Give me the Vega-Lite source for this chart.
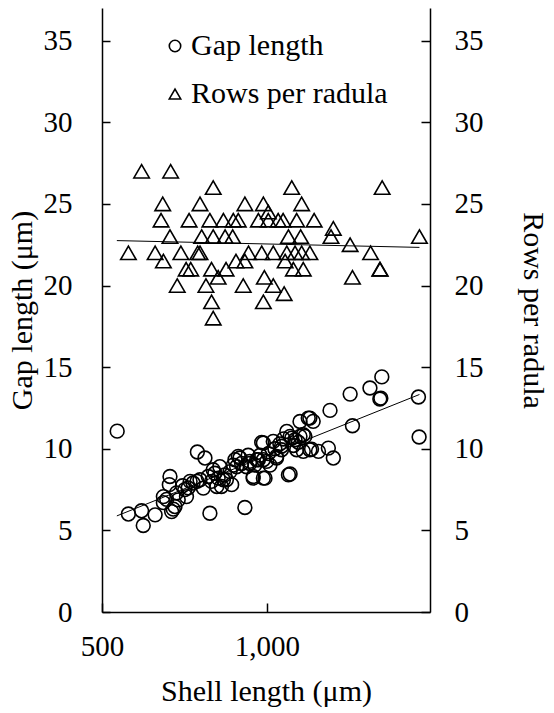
{
  "$schema": "https://vega.github.io/schema/vega-lite/v6.json",
  "width": 328,
  "height": 604,
  "autosize": "none",
  "padding": {"left": 102, "top": 8, "right": 124, "bottom": 101},
  "background": "white",
  "config": {
    "view": {"stroke": null},
    "font": "Liberation Serif, Times New Roman, serif",
    "axis": {
      "labelFont": "Liberation Serif, Times New Roman, serif",
      "titleFont": "Liberation Serif, Times New Roman, serif",
      "labelFontSize": 29,
      "titleFontSize": 30,
      "titleFontWeight": "normal",
      "labelColor": "black",
      "titleColor": "black",
      "domainColor": "black",
      "tickColor": "black",
      "domainWidth": 1.5,
      "tickWidth": 1.5,
      "grid": false
    },
    "legend": {
      "labelFont": "Liberation Serif, Times New Roman, serif",
      "labelFontSize": 30,
      "labelColor": "black",
      "labelLimit": 400
    }
  },
  "datasets": {
    "pts": [
      {"s": "Gap length", "x": 546, "y": 11.08},
      {"s": "Gap length", "x": 580, "y": 6.0},
      {"s": "Gap length", "x": 620, "y": 6.2},
      {"s": "Gap length", "x": 625, "y": 5.3},
      {"s": "Gap length", "x": 661, "y": 5.95},
      {"s": "Gap length", "x": 686, "y": 7.07},
      {"s": "Gap length", "x": 686, "y": 6.7},
      {"s": "Gap length", "x": 696, "y": 6.9},
      {"s": "Gap length", "x": 704, "y": 7.8},
      {"s": "Gap length", "x": 706, "y": 8.3},
      {"s": "Gap length", "x": 711, "y": 6.15},
      {"s": "Gap length", "x": 716, "y": 6.3},
      {"s": "Gap length", "x": 721, "y": 6.46},
      {"s": "Gap length", "x": 726, "y": 7.3},
      {"s": "Gap length", "x": 731, "y": 6.87},
      {"s": "Gap length", "x": 744, "y": 7.73},
      {"s": "Gap length", "x": 751, "y": 7.5},
      {"s": "Gap length", "x": 756, "y": 7.07},
      {"s": "Gap length", "x": 761, "y": 7.6},
      {"s": "Gap length", "x": 767, "y": 8.0},
      {"s": "Gap length", "x": 776, "y": 7.9},
      {"s": "Gap length", "x": 788, "y": 8.0},
      {"s": "Gap length", "x": 789, "y": 9.8},
      {"s": "Gap length", "x": 797, "y": 8.1},
      {"s": "Gap length", "x": 807, "y": 7.59},
      {"s": "Gap length", "x": 812, "y": 9.43},
      {"s": "Gap length", "x": 822, "y": 8.3},
      {"s": "Gap length", "x": 827, "y": 6.05},
      {"s": "Gap length", "x": 832, "y": 8.0},
      {"s": "Gap length", "x": 837, "y": 8.71},
      {"s": "Gap length", "x": 842, "y": 8.5},
      {"s": "Gap length", "x": 848, "y": 7.69},
      {"s": "Gap length", "x": 852, "y": 8.2},
      {"s": "Gap length", "x": 857, "y": 8.9},
      {"s": "Gap length", "x": 862, "y": 7.69},
      {"s": "Gap length", "x": 868, "y": 8.1},
      {"s": "Gap length", "x": 872, "y": 8.4},
      {"s": "Gap length", "x": 877, "y": 8.1},
      {"s": "Gap length", "x": 888, "y": 8.6},
      {"s": "Gap length", "x": 893, "y": 7.8},
      {"s": "Gap length", "x": 898, "y": 9.0},
      {"s": "Gap length", "x": 903, "y": 9.33},
      {"s": "Gap length", "x": 908, "y": 8.9},
      {"s": "Gap length", "x": 913, "y": 9.53},
      {"s": "Gap length", "x": 918, "y": 9.43},
      {"s": "Gap length", "x": 923, "y": 9.1},
      {"s": "Gap length", "x": 933, "y": 6.4},
      {"s": "Gap length", "x": 938, "y": 8.9},
      {"s": "Gap length", "x": 943, "y": 9.6},
      {"s": "Gap length", "x": 948, "y": 9.1},
      {"s": "Gap length", "x": 948, "y": 9.23},
      {"s": "Gap length", "x": 958, "y": 8.2},
      {"s": "Gap length", "x": 958, "y": 8.3},
      {"s": "Gap length", "x": 963, "y": 9.0},
      {"s": "Gap length", "x": 969, "y": 9.33},
      {"s": "Gap length", "x": 974, "y": 9.33},
      {"s": "Gap length", "x": 979, "y": 9.6},
      {"s": "Gap length", "x": 984, "y": 10.39},
      {"s": "Gap length", "x": 989, "y": 9.33},
      {"s": "Gap length", "x": 989, "y": 10.35},
      {"s": "Gap length", "x": 989, "y": 8.2},
      {"s": "Gap length", "x": 994, "y": 8.2},
      {"s": "Gap length", "x": 999, "y": 9.23},
      {"s": "Gap length", "x": 1004, "y": 9.7},
      {"s": "Gap length", "x": 1009, "y": 9.0},
      {"s": "Gap length", "x": 1019, "y": 10.45},
      {"s": "Gap length", "x": 1024, "y": 10.0},
      {"s": "Gap length", "x": 1029, "y": 9.53},
      {"s": "Gap length", "x": 1029, "y": 9.43},
      {"s": "Gap length", "x": 1039, "y": 10.3},
      {"s": "Gap length", "x": 1044, "y": 10.15},
      {"s": "Gap length", "x": 1044, "y": 9.94},
      {"s": "Gap length", "x": 1050, "y": 10.6},
      {"s": "Gap length", "x": 1060, "y": 11.06},
      {"s": "Gap length", "x": 1065, "y": 8.4},
      {"s": "Gap length", "x": 1070, "y": 10.76},
      {"s": "Gap length", "x": 1070, "y": 8.45},
      {"s": "Gap length", "x": 1075, "y": 10.65},
      {"s": "Gap length", "x": 1080, "y": 10.2},
      {"s": "Gap length", "x": 1085, "y": 10.55},
      {"s": "Gap length", "x": 1090, "y": 9.94},
      {"s": "Gap length", "x": 1095, "y": 10.4},
      {"s": "Gap length", "x": 1100, "y": 11.67},
      {"s": "Gap length", "x": 1100, "y": 10.76},
      {"s": "Gap length", "x": 1110, "y": 10.86},
      {"s": "Gap length", "x": 1110, "y": 9.84},
      {"s": "Gap length", "x": 1115, "y": 10.76},
      {"s": "Gap length", "x": 1125, "y": 11.88},
      {"s": "Gap length", "x": 1130, "y": 11.88},
      {"s": "Gap length", "x": 1130, "y": 9.94},
      {"s": "Gap length", "x": 1135, "y": 9.98},
      {"s": "Gap length", "x": 1140, "y": 11.68},
      {"s": "Gap length", "x": 1156, "y": 9.84},
      {"s": "Gap length", "x": 1186, "y": 10.04},
      {"s": "Gap length", "x": 1191, "y": 12.35},
      {"s": "Gap length", "x": 1201, "y": 9.43},
      {"s": "Gap length", "x": 1252, "y": 13.35},
      {"s": "Gap length", "x": 1259, "y": 11.41},
      {"s": "Gap length", "x": 1312, "y": 13.72},
      {"s": "Gap length", "x": 1342, "y": 13.05},
      {"s": "Gap length", "x": 1345, "y": 13.1},
      {"s": "Gap length", "x": 1348, "y": 14.4},
      {"s": "Gap length", "x": 1459, "y": 13.17},
      {"s": "Gap length", "x": 1461, "y": 10.72},
      {"s": "Rows per radula", "x": 620, "y": 27},
      {"s": "Rows per radula", "x": 708, "y": 27},
      {"s": "Rows per radula", "x": 837, "y": 26},
      {"s": "Rows per radula", "x": 1075, "y": 26},
      {"s": "Rows per radula", "x": 1349, "y": 26},
      {"s": "Rows per radula", "x": 684, "y": 25},
      {"s": "Rows per radula", "x": 797, "y": 25},
      {"s": "Rows per radula", "x": 933, "y": 25},
      {"s": "Rows per radula", "x": 989, "y": 25},
      {"s": "Rows per radula", "x": 1105, "y": 25},
      {"s": "Rows per radula", "x": 1004, "y": 24.5},
      {"s": "Rows per radula", "x": 679, "y": 24},
      {"s": "Rows per radula", "x": 764, "y": 24},
      {"s": "Rows per radula", "x": 827, "y": 24},
      {"s": "Rows per radula", "x": 868, "y": 24},
      {"s": "Rows per radula", "x": 898, "y": 24},
      {"s": "Rows per radula", "x": 913, "y": 24},
      {"s": "Rows per radula", "x": 974, "y": 24},
      {"s": "Rows per radula", "x": 1004, "y": 24},
      {"s": "Rows per radula", "x": 1034, "y": 24},
      {"s": "Rows per radula", "x": 1049, "y": 24},
      {"s": "Rows per radula", "x": 1090, "y": 24},
      {"s": "Rows per radula", "x": 1143, "y": 24},
      {"s": "Rows per radula", "x": 1201, "y": 23.5},
      {"s": "Rows per radula", "x": 706, "y": 23},
      {"s": "Rows per radula", "x": 802, "y": 23},
      {"s": "Rows per radula", "x": 837, "y": 23},
      {"s": "Rows per radula", "x": 873, "y": 23},
      {"s": "Rows per radula", "x": 896, "y": 23},
      {"s": "Rows per radula", "x": 1065, "y": 23},
      {"s": "Rows per radula", "x": 1102, "y": 23},
      {"s": "Rows per radula", "x": 1194, "y": 23},
      {"s": "Rows per radula", "x": 1462, "y": 23},
      {"s": "Rows per radula", "x": 1252, "y": 22.5},
      {"s": "Rows per radula", "x": 580, "y": 22},
      {"s": "Rows per radula", "x": 661, "y": 22},
      {"s": "Rows per radula", "x": 739, "y": 22},
      {"s": "Rows per radula", "x": 790, "y": 22},
      {"s": "Rows per radula", "x": 797, "y": 22},
      {"s": "Rows per radula", "x": 944, "y": 22},
      {"s": "Rows per radula", "x": 984, "y": 22},
      {"s": "Rows per radula", "x": 1019, "y": 22},
      {"s": "Rows per radula", "x": 1060, "y": 22},
      {"s": "Rows per radula", "x": 1085, "y": 22},
      {"s": "Rows per radula", "x": 1105, "y": 22},
      {"s": "Rows per radula", "x": 1130, "y": 22},
      {"s": "Rows per radula", "x": 1314, "y": 22},
      {"s": "Rows per radula", "x": 686, "y": 21.5},
      {"s": "Rows per radula", "x": 906, "y": 21.5},
      {"s": "Rows per radula", "x": 933, "y": 21.5},
      {"s": "Rows per radula", "x": 1055, "y": 21.5},
      {"s": "Rows per radula", "x": 755, "y": 21},
      {"s": "Rows per radula", "x": 769, "y": 21},
      {"s": "Rows per radula", "x": 832, "y": 21},
      {"s": "Rows per radula", "x": 876, "y": 21},
      {"s": "Rows per radula", "x": 1080, "y": 21},
      {"s": "Rows per radula", "x": 1110, "y": 21},
      {"s": "Rows per radula", "x": 1342, "y": 21},
      {"s": "Rows per radula", "x": 1343, "y": 21},
      {"s": "Rows per radula", "x": 852, "y": 20.5},
      {"s": "Rows per radula", "x": 992, "y": 20.5},
      {"s": "Rows per radula", "x": 1259, "y": 20.5},
      {"s": "Rows per radula", "x": 728, "y": 20},
      {"s": "Rows per radula", "x": 815, "y": 20},
      {"s": "Rows per radula", "x": 928, "y": 20},
      {"s": "Rows per radula", "x": 1019, "y": 20},
      {"s": "Rows per radula", "x": 1052, "y": 19.5},
      {"s": "Rows per radula", "x": 832, "y": 19},
      {"s": "Rows per radula", "x": 989, "y": 19},
      {"s": "Rows per radula", "x": 837, "y": 18}
    ]
  },
  "data": {"name": "pts"},
  "encoding": {
    "x": {
      "field": "x",
      "type": "quantitative",
      "scale": {"domain": [500, 1494], "nice": false, "zero": false},
      "axis": {
        "title": "Shell length (μm)",
        "values": [500, 1000],
        "format": ",.0f",
        "labelFlush": false,
        "labelOverlap": false,
        "tickSize": -9,
        "labelPadding": 29,
        "titlePadding": 15
      }
    }
  },
  "layer": [
    {
      "transform": [{"filter": "datum.s === 'Gap length'"}],
      "layer": [
        {
          "mark": {"type": "point", "filled": false, "stroke": "black", "strokeWidth": 1.6, "size": 190, "opacity": 1},
          "encoding": {
            "y": {
              "field": "y",
              "type": "quantitative",
              "scale": {"domain": [0, 37], "nice": false},
              "axis": {
                "title": "Gap length (μm)",
                "values": [0, 5, 10, 15, 20, 25, 30, 35],
                "orient": "left",
                "labelFlush": false,
                "tickSize": -8,
                "labelPadding": 38,
                "titlePadding": 6
              }
            },
            "shape": {
              "field": "s",
              "type": "nominal",
              "scale": {"domain": ["Gap length", "Rows per radula"], "range": ["circle", "triangle-up"]},
              "legend": {
                "title": null,
                "orient": "none",
                "legendX": 58,
                "legendY": 23,
                "padding": 0,
                "rowPadding": 18,
                "symbolSize": 130,
                "symbolStrokeWidth": 1.6,
                "symbolStrokeColor": "black",
                "symbolFillColor": "transparent",
                "labelOffset": 1
              }
            }
          }
        },
        {
          "transform": [{"regression": "y", "on": "x", "extent": [545, 1462]}],
          "mark": {"type": "line", "color": "black", "strokeWidth": 1},
          "encoding": {
            "y": {"field": "y", "type": "quantitative"}
          }
        }
      ]
    },
    {
      "transform": [{"filter": "datum.s === 'Rows per radula'"}],
      "layer": [
        {
          "mark": {"type": "point", "filled": false, "stroke": "black", "strokeWidth": 1.6, "size": 240, "opacity": 1},
          "encoding": {
            "y": {
              "field": "y",
              "type": "quantitative",
              "scale": {"domain": [0, 37], "nice": false},
              "axis": {
                "title": "Rows per radula",
                "values": [0, 5, 10, 15, 20, 25, 30, 35],
                "orient": "right",
                "labelFlush": false,
                "tickSize": -9,
                "labelPadding": 33,
                "titlePadding": 34
              }
            },
            "shape": {"field": "s", "type": "nominal"}
          }
        },
        {
          "transform": [{"regression": "y", "on": "x", "extent": [545, 1462]}],
          "mark": {"type": "line", "color": "black", "strokeWidth": 1},
          "encoding": {
            "y": {"field": "y", "type": "quantitative"}
          }
        }
      ]
    }
  ],
  "resolve": {"scale": {"y": "independent"}}
}
